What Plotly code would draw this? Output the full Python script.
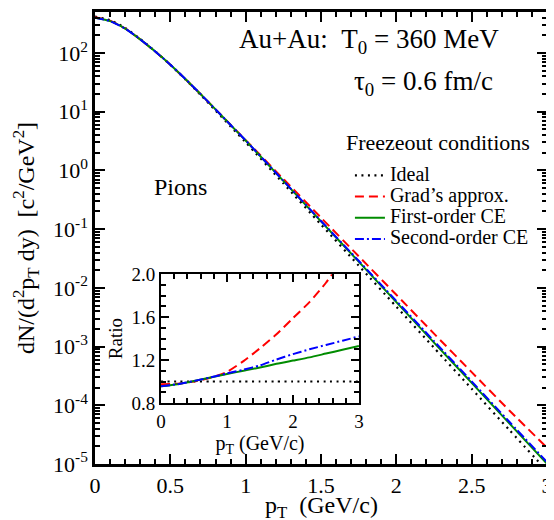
import plotly.graph_objects as go

# ---------------- data ----------------
pt = [0.0, 0.1, 0.2, 0.3, 0.4, 0.5, 0.6, 0.7, 0.8, 0.9, 1.0,
      1.25, 1.5, 1.75, 2.0, 2.25, 2.5, 2.75, 3.0]
ideal = [417, 363, 269, 174, 107, 63.1, 35.5, 19.5, 10.5, 5.62, 3.02,
         0.603, 0.120, 0.0240, 4.79e-3, 9.55e-4, 1.91e-4, 3.80e-5, 7.59e-6]
grad = [407, 354, 263, 171, 106, 63.1, 35.9, 20.0, 10.97, 5.99, 3.29,
        0.718, 0.157, 0.0346, 7.62e-3, 1.66e-3, 3.67e-4, 8.17e-5, 1.90e-5]
first_ce = [398, 349, 261, 171, 106, 63.4, 36.2, 20.1, 10.97, 5.95, 3.23,
            0.663, 0.136, 0.0280, 5.72e-3, 1.17e-3, 2.41e-4, 4.92e-5, 1.01e-5]
second_ce = [398, 349, 261, 171, 106, 63.4, 36.2, 20.1, 10.97, 5.95, 3.25,
             0.669, 0.138, 0.0289, 6.01e-3, 1.24e-3, 2.56e-4, 5.24e-5, 1.08e-5]

pt_ratio = [0.0, 0.25, 0.5, 0.75, 1.0, 1.25, 1.5, 1.75, 2.0, 2.25, 2.5, 2.75, 3.0]
ratio_ideal = [1.0, 1.0, 1.0, 1.0, 1.0, 1.0, 1.0, 1.0, 1.0, 1.0, 1.0, 1.0, 1.0]
ratio_grad = [0.975, 0.98, 1.0, 1.035, 1.09, 1.19, 1.31, 1.44, 1.59, 1.74, 1.92, 2.15, 2.5]
ratio_first = [0.955, 0.975, 1.005, 1.038, 1.07, 1.10, 1.13, 1.165, 1.195, 1.225, 1.26, 1.295, 1.33]
ratio_second = [0.955, 0.975, 1.005, 1.038, 1.075, 1.11, 1.15, 1.205, 1.255, 1.30, 1.34, 1.38, 1.42]

series_names = ["Ideal", "Grad\u2019s approx.", "First-order CE", "Second-order CE"]

y_tick_vals = [1e-5, 1e-4, 1e-3, 1e-2, 1e-1, 1e0, 1e1, 1e2]
y_tick_text = ["10<sup>-5</sup>", "10<sup>-4</sup>", "10<sup>-3</sup>", "10<sup>-2</sup>",
               "10<sup>-1</sup>", "10<sup>0</sup>", "10<sup>1</sup>", "10<sup>2</sup>"]

# ---------------- styles ----------------
FONT = "Liberation Serif"
styles = [
    dict(color="black", width=2.2, dash="2px,4.5px"),
    dict(color="#ff0000", width=2, dash="9px,5px"),
    dict(color="#008c00", width=2, dash="solid"),
    dict(color="#0000ff", width=2, dash="9px,3px,2px,3px"),
]
minor_y = [m * 10.0 ** k for k in range(-5, 3) for m in range(2, 10)]

fig = go.Figure()
main_series = [ideal, grad, first_ce, second_ce]
for name, ys, st in zip(series_names, main_series, styles):
    fig.add_trace(go.Scatter(
        x=pt, y=ys, mode="lines",
        name='<span style="font-size:20px">' + name + '</span>',
        line=dict(color=st["color"], width=st["width"], dash=st["dash"], shape="spline", smoothing=0.6),
        xaxis="x", yaxis="y",
    ))

ratio_series = [ratio_ideal, ratio_grad, ratio_first, ratio_second]
for name, ys, st in zip(series_names, ratio_series, styles):
    fig.add_trace(go.Scatter(
        x=pt_ratio, y=ys, mode="lines", name=name, showlegend=False,
        line=dict(color=st["color"], width=st["width"], dash=st["dash"], shape="spline", smoothing=0.6),
        xaxis="x2", yaxis="y2",
    ))

axis_common = dict(showgrid=False, zeroline=False, showline=True, linecolor="black",
                   ticks="inside", tickcolor="black", mirror="ticks", automargin=False)

fig.update_layout(
    width=546, height=512,
    margin=dict(l=87, r=7, t=4, b=56, autoexpand=False),
    paper_bgcolor="white", plot_bgcolor="white",
    font=dict(family=FONT, color="black"),
    showlegend=True,
    legend=dict(
        x=0.564, y=0.673, xanchor="left", yanchor="top",
        bgcolor="rgba(0,0,0,0)",
        font=dict(family=FONT, size=14, color="black"),
        itemwidth=30, tracegroupgap=0,
    ),
    xaxis=dict(
        **axis_common, domain=[0, 1], anchor="y", range=[0, 3],
        linewidth=2.5, tickwidth=2, ticklen=10, tick0=0, dtick=0.5,
        minor=dict(ticks="inside", ticklen=5, tickwidth=1.5, dtick=0.1, tickcolor="black"),
        tickfont=dict(family=FONT, size=22),
    ),
    yaxis=dict(
        **axis_common, domain=[0, 1], anchor="x", type="log", range=[-5, 2.699],
        linewidth=2.5, tickwidth=2, ticklen=10,
        tickmode="array", tickvals=y_tick_vals, ticktext=y_tick_text,
        minor=dict(ticks="inside", ticklen=5, tickwidth=1.5, tickcolor="black",
                   tickmode="array", tickvals=minor_y),
        tickfont=dict(family=FONT, size=22),
        title=dict(text="dN/(d<sup>2</sup>p<sub>T</sub> dy)\u00a0\u00a0[c<sup>2</sup>/GeV<sup>2</sup>]",
                   font=dict(family=FONT, size=24), standoff=12),
    ),
    xaxis2=dict(
        **axis_common, domain=[0.146, 0.584], anchor="y2", range=[0, 3],
        linewidth=2, tickwidth=1.5, ticklen=8, tick0=0, dtick=1,
        minor=dict(ticks="inside", ticklen=5, tickwidth=1.5, dtick=0.2, tickcolor="black"),
        tickfont=dict(family=FONT, size=19),
        title=dict(text="p<sub>T</sub> (GeV/c)", font=dict(family=FONT, size=20), standoff=2),
    ),
    yaxis2=dict(
        **axis_common, domain=[0.135, 0.42], anchor="x2", range=[0.8, 2.0],
        linewidth=2, tickwidth=1.5, ticklen=8, tick0=0.8, dtick=0.4, tickformat=".1f",
        minor=dict(ticks="inside", ticklen=5, tickwidth=1.5, dtick=0.1, tickcolor="black"),
        tickfont=dict(family=FONT, size=19),
        title=dict(text="Ratio", font=dict(family=FONT, size=19), standoff=4),
    ),
    annotations=[
        dict(text="p<sub>T</sub>\u00a0\u00a0(GeV/c)", xref="paper", yref="paper",
             x=0.5, y=-0.096, xanchor="center", yanchor="middle", showarrow=False,
             font=dict(family=FONT, size=24)),
        dict(text="Au+Au:\u00a0\u00a0T<sub>0</sub> = 360 MeV", xref="paper", yref="paper",
             x=0.898, y=0.935, xanchor="right", yanchor="middle", showarrow=False,
             font=dict(family=FONT, size=27)),
        dict(text="\u03c4<sub>0</sub> = 0.6 fm/c", xref="paper", yref="paper",
             x=0.884, y=0.843, xanchor="right", yanchor="middle", showarrow=False,
             font=dict(family=FONT, size=27)),
        dict(text="Freezeout conditions", xref="paper", yref="paper",
             x=0.551, y=0.712, xanchor="left", yanchor="middle", showarrow=False,
             font=dict(family=FONT, size=22)),
        dict(text="Pions", xref="paper", yref="paper",
             x=0.189, y=0.612, xanchor="center", yanchor="middle", showarrow=False,
             font=dict(family=FONT, size=24)),
    ],
)

fig.write_html("out.html")
